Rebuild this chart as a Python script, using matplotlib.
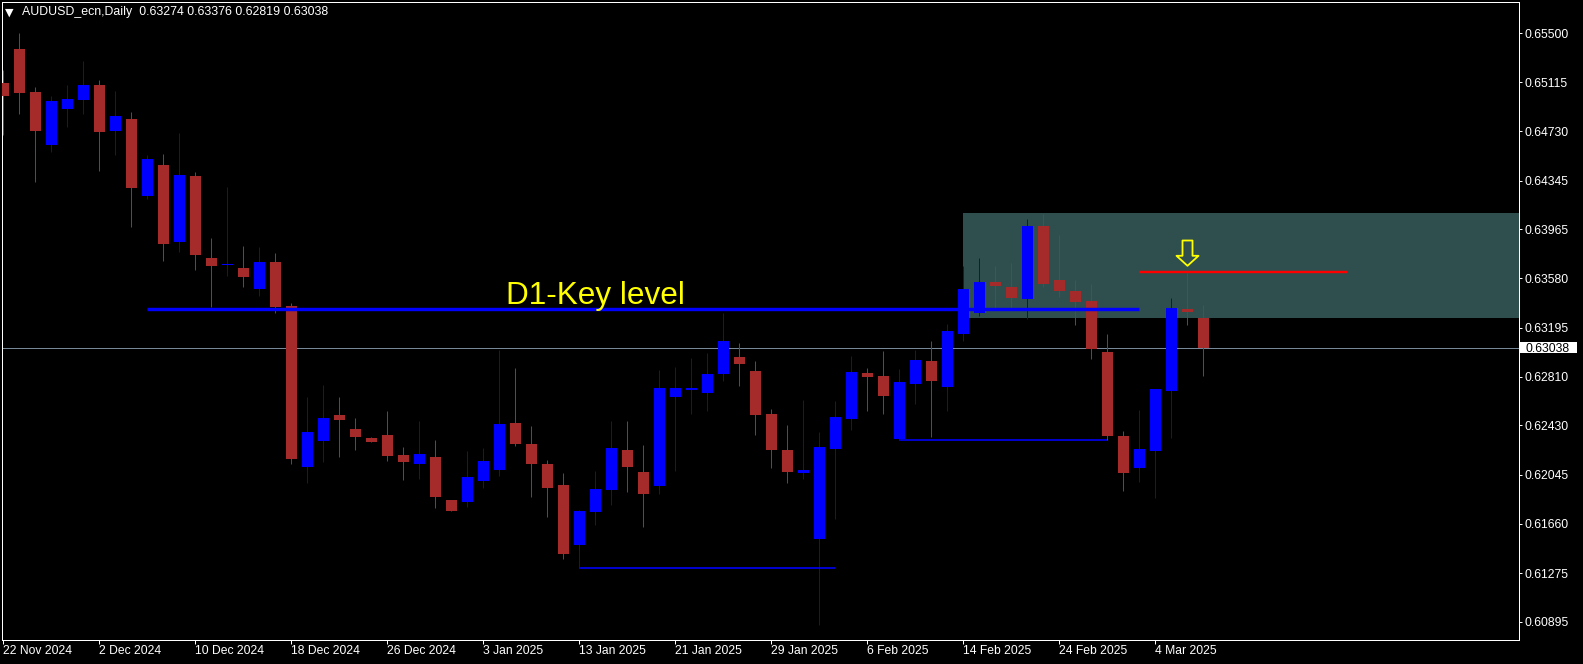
import matplotlib
matplotlib.use("Agg")
import matplotlib.pyplot as plt
import numpy as np
from matplotlib.patches import Rectangle
from matplotlib.path import Path
from matplotlib.transforms import blended_transform_factory

plt.rcParams.update({
    "font.family": ["Liberation Sans", "DejaVu Sans"],
    "font.size": 8.7,
})

title = "AUDUSD_ecn,Daily  0.63274 0.63376 0.62819 0.63038"

# daily OHLC, 22 Nov 2024 .. 7 Mar 2025
opens = [0.65110, 0.65376, 0.65039, 0.64624, 0.64906, 0.64979, 0.65094, 0.64734, 0.64828, 0.64228,
         0.64468, 0.63868, 0.64382, 0.63743, 0.63682, 0.63664, 0.63500, 0.63711, 0.63367, 0.62105,
         0.62308, 0.62512, 0.62402, 0.62332, 0.62355, 0.62199, 0.62128, 0.62183, 0.61847, 0.61831,
         0.61995, 0.62081, 0.62449, 0.62285, 0.62128, 0.61964, 0.61494, 0.61753, 0.61925, 0.62238,
         0.62066, 0.61956, 0.62652, 0.62707, 0.62684, 0.62832, 0.62966, 0.62856, 0.62519, 0.62238,
         0.62060, 0.61541, 0.62246, 0.62480, 0.62840, 0.62817, 0.62324, 0.62754, 0.62934, 0.62731,
         0.63145, 0.63310, 0.63552, 0.63513, 0.63419, 0.63991, 0.63568, 0.63482, 0.63404, 0.63005,
         0.62347, 0.62099, 0.62230, 0.62699, 0.63339, 0.63274]
highs = [0.65211, 0.65503, 0.65078, 0.65008, 0.65094, 0.65282, 0.65133, 0.65047, 0.64883, 0.64546,
         0.64554, 0.64718, 0.64413, 0.63897, 0.64296, 0.63836, 0.63829, 0.63782, 0.63390, 0.62652,
         0.62746, 0.62652, 0.62488, 0.62340, 0.62543, 0.62261, 0.62465, 0.62316, 0.61847, 0.62230,
         0.62253, 0.63020, 0.62879, 0.62426, 0.62160, 0.62058, 0.61768, 0.62073, 0.62465, 0.62465,
         0.62277, 0.62864, 0.62887, 0.62958, 0.62997, 0.63310, 0.63075, 0.62934, 0.62559, 0.62433,
         0.62629, 0.62381, 0.62621, 0.62973, 0.62879, 0.63012, 0.62872, 0.63020, 0.63091, 0.63224,
         0.63678, 0.63740, 0.63678, 0.63701, 0.64045, 0.64087, 0.63920, 0.63568, 0.63537, 0.63145,
         0.62386, 0.62551, 0.62715, 0.63427, 0.63630, 0.63376]
lows = [0.64705, 0.64869, 0.64337, 0.64572, 0.64768, 0.64869, 0.64423, 0.64546, 0.63985, 0.64202,
        0.63719, 0.63789, 0.63649, 0.63359, 0.63602, 0.63516, 0.63445, 0.63312, 0.62128, 0.61980,
        0.62144, 0.62183, 0.62238, 0.62300, 0.62152, 0.62003, 0.62011, 0.61784, 0.61760, 0.61792,
        0.61940, 0.62034, 0.62269, 0.61870, 0.61714, 0.61385, 0.61317, 0.61651, 0.61807, 0.61909,
        0.61635, 0.61893, 0.62073, 0.62519, 0.62543, 0.62778, 0.62739, 0.62355, 0.62097, 0.61980,
        0.62011, 0.60868, 0.61698, 0.62394, 0.62543, 0.62519, 0.62316, 0.62598, 0.62340, 0.62543,
        0.63091, 0.63286, 0.63349, 0.63349, 0.63263, 0.63513, 0.63435, 0.63216, 0.62950, 0.62316,
        0.61917, 0.61987, 0.61862, 0.62334, 0.63218, 0.62819]
closes = [0.65010, 0.65031, 0.64736, 0.64969, 0.64984, 0.65094, 0.64728, 0.64851, 0.64290, 0.64515,
          0.63852, 0.64390, 0.63766, 0.63680, 0.63684, 0.63594, 0.63711, 0.63359, 0.62167, 0.62379,
          0.62488, 0.62473, 0.62340, 0.62300, 0.62191, 0.62144, 0.62206, 0.61870, 0.61760, 0.62027,
          0.62152, 0.62441, 0.62285, 0.62128, 0.61940, 0.61424, 0.61760, 0.61933, 0.62253, 0.62105,
          0.61893, 0.62723, 0.62723, 0.62723, 0.62832, 0.63091, 0.62911, 0.62512, 0.62238, 0.62066,
          0.62081, 0.62261, 0.62496, 0.62848, 0.62809, 0.62660, 0.62770, 0.62942, 0.62778, 0.63169,
          0.63498, 0.63552, 0.63521, 0.63427, 0.63991, 0.63537, 0.63482, 0.63396, 0.63028, 0.62347,
          0.62058, 0.62246, 0.62715, 0.63349, 0.63320, 0.63038]

date_labels = ["22 Nov 2024", "2 Dec 2024", "10 Dec 2024", "18 Dec 2024", "26 Dec 2024",
               "3 Jan 2025", "13 Jan 2025", "21 Jan 2025", "29 Jan 2025", "6 Feb 2025",
               "14 Feb 2025", "24 Feb 2025", "4 Mar 2025"]
bars_per_label = 6

price_ticks = [0.65500, 0.65115, 0.64730, 0.64345, 0.63965, 0.63580, 0.63195,
               0.62810, 0.62430, 0.62045, 0.61660, 0.61275, 0.60895]
last_price = 0.63038

# drawn objects
key_level = 0.63341
key_level_bars = (9, 71)
key_label = "D1-Key level"
key_label_pos = (31.4, 0.63378)
zone_top, zone_bottom = 0.64092, 0.63273
zone_start_bar = 60
red_level = 0.63630
red_level_bars = (71, 84)
low_a, low_a_bars = 0.61317, (36, 52)
low_b, low_b_bars = 0.62316, (56, 69)
signal_bar = 74

BULL = "#0000ff"
BEAR = "#a52a2a"
W, H, DPI = 1583, 664, 100
PX = 72 / DPI  # one pixel in points

fig = plt.figure(figsize=(W / DPI, H / DPI), dpi=DPI, facecolor="black")
# plot frame: x 2..1519, y 2..640 (pixels)
ax = fig.add_axes([2 / W, (H - 640) / H, 1517 / W, 638 / H])
ax.set_facecolor("black")
ax.set_xlim(-0.081, 94.73)
ymin, ymax = 0.60751, 0.65743
ax.set_ylim(ymin, ymax)
unit_px = (ymax - ymin) / 638  # price per pixel

o = np.array(opens)
h = np.array(highs)
l = np.array(lows)
c = np.array(closes)
x = np.arange(len(o))
up = c >= o
colors = np.where(up, BULL, BEAR)

# zone
ax.add_patch(Rectangle((zone_start_bar, zone_bottom), 200, zone_top - zone_bottom,
                       facecolor="#2f4f4f", edgecolor="none", zorder=0.5))

# bid line
ax.axhline(last_price, color="#778899", lw=PX, zorder=1)

# candles
ax.vlines(x, l, h, colors=colors, lw=PX, zorder=2)
body_lo = np.minimum(o, c)
body_h = np.maximum(np.abs(c - o), unit_px)
ax.bar(x, body_h, bottom=body_lo, width=0.69, color=colors, linewidth=0, zorder=3)

# lines
ax.hlines(key_level, *key_level_bars, colors=BULL, lw=3.4 * PX, zorder=4)
ax.hlines([low_a, low_b], [low_a_bars[0], low_b_bars[0]], [low_a_bars[1], low_b_bars[1]],
          colors=BULL, lw=1.6 * PX, zorder=4)
ax.hlines(red_level, *red_level_bars, colors="#ff0000", lw=2.4 * PX, zorder=4)

ax.text(*key_label_pos, key_label, color="#ffff00", fontsize=22.7, ha="left", va="baseline",
        zorder=5)

# hollow down arrow above the signal candle (pixel units, tip at bottom)
verts = [(0, 6.7), (11, 16.7), (5, 16.7), (5, 32), (-5, 32), (-5, 16.7), (-11, 16.7), (0, 6.7)]
arrow = Path(verts, closed=True)
size = 2 * max(abs(v) for p in verts for v in p) * PX
ax.plot(signal_bar, h[signal_bar], marker=arrow, markersize=size, mfc="none", mec="#ffff00",
        mew=1.8 * PX, ls="none", zorder=6)

# axes styling
for s in ax.spines.values():
    s.set_color("white")
    s.set_linewidth(PX)

ax.set_xticks(np.arange(len(date_labels)) * bars_per_label, date_labels, ha="left")
ax.tick_params(axis="x", colors="white", length=4 * PX, width=PX, pad=1)
ax.yaxis.tick_right()
ax.set_yticks(price_ticks, [f"{p:.5f}" for p in price_ticks])
ax.tick_params(axis="y", colors="white", length=3 * PX, width=PX, pad=2.5 * PX)

# last price box on the scale
trans = blended_transform_factory(ax.transAxes, ax.transData)
ax.add_patch(Rectangle((1.0009, last_price - 5.7 * unit_px), 0.0374, 11.4 * unit_px,
                       transform=trans, facecolor="white", edgecolor="none", clip_on=False))
ax.text(1.0046, last_price, f"{last_price:.5f}", transform=trans, color="black",
        ha="left", va="center_baseline", clip_on=False)

# chart header
fig.text(5 / W, 1 - 12.5 / H, "\u25bc", color="white", fontsize=8, family="DejaVu Sans",
         ha="left", va="center")
fig.text(22 / W, 1 - 12 / H, title, color="white", fontsize=8.9, ha="left", va="center")

fig.savefig("out.png", dpi=DPI, facecolor="black")
